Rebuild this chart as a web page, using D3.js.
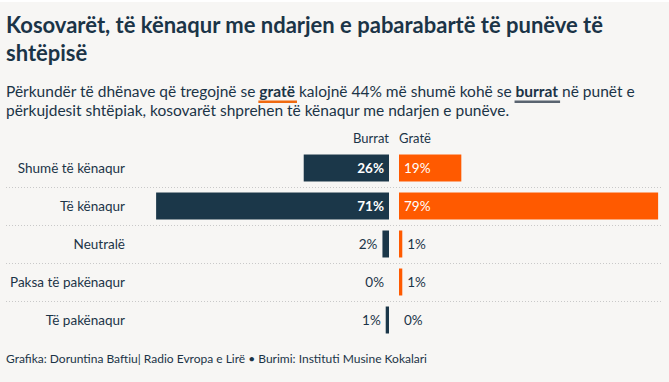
<!DOCTYPE html>
<html>
<head>
<meta charset="utf-8">
<script src="https://cdn.jsdelivr.net/npm/d3@7.9.0/dist/d3.min.js"></script>
<style>
  html, body { margin: 0; padding: 0; background: #fff; }
  svg { display: block; font-family: Lato, sans-serif; }
</style>
</head>
<body>
<svg id="chart" width="669" height="382"></svg>
<script>
const categories = ["Shumë të kënaqur", "Të kënaqur", "Neutralë", "Paksa të pakënaqur", "Të pakënaqur"];
const burrat = [26, 71, 2, 0, 1];
const grate = [19, 79, 1, 1, 0];
const seriesNames = ["Burrat", "Gratë"];

const navy = "#1b3749";
const orange = "#ff5a00";
const ink = "#1b3447";

const svg = d3.select("#chart");

svg.append("rect")
  .attr("x", 0).attr("y", 2)
  .attr("width", 669).attr("height", 380)
  .attr("fill", "#f7f6f4");

// title
const title = svg.append("text")
  .attr("x", 6).attr("y", 33)
  .attr("fill", ink)
  .attr("font-size", 22)
  .attr("font-weight", 700);
title.append("tspan").attr("x", 6).text("Kosovarët, të kënaqur me ndarjen e pabarabartë të punëve të");
title.append("tspan").attr("x", 6).attr("dy", 28).text("shtëpisë");

// subtitle with highlighted words
const sub = svg.append("text")
  .attr("x", 6).attr("y", 97)
  .attr("fill", ink)
  .attr("font-size", 15.5);
const l1 = sub.append("tspan").attr("x", 6);
l1.append("tspan").text("Përkundër të dhënave që tregojnë se ");
l1.append("tspan").attr("class", "hl-g").attr("font-weight", 700).text("gratë");
l1.append("tspan").text(" kalojnë 44% më shumë kohë se ");
l1.append("tspan").attr("class", "hl-b").attr("font-weight", 700).text("burrat");
l1.append("tspan").text(" në punët e");
sub.append("tspan").attr("x", 6).attr("dy", 19)
  .text("përkujdesit shtëpiak, kosovarët shprehen të kënaqur me ndarjen e punëve.");

[["hl-g", "#f06a10"], ["hl-b", "#5a6470"]].forEach(([cls, col]) => {
  const node = sub.select("." + cls).node();
  const n = node.getNumberOfChars();
  const start = node.getStartPositionOfChar(0).x;
  const end = node.getEndPositionOfChar(n - 1).x;
  svg.append("rect")
    .attr("x", start - 1).attr("y", 100.5)
    .attr("width", end - start + 3).attr("height", 2.5)
    .attr("fill", col);
});

// chart geometry
const mid = 394, gap = 5;
const x = d3.scaleLinear().domain([0, 100]).range([0, 328]);
const y = d3.scaleBand().domain(categories).range([149, 339]).paddingInner(0.29).paddingOuter(0.145);

// column headers
svg.append("text").attr("x", mid - gap).attr("y", 143)
  .attr("text-anchor", "end").attr("font-size", 13).attr("fill", ink).text(seriesNames[0]);
svg.append("text").attr("x", mid + gap).attr("y", 143)
  .attr("font-size", 13).attr("fill", ink).text(seriesNames[1]);

// dotted separators
categories.slice(1).forEach(c => {
  const yy = y(c) - (y.step() - y.bandwidth()) / 2;
  svg.append("line")
    .attr("x1", 6).attr("x2", 662)
    .attr("y1", Math.round(yy) + 0.5).attr("y2", Math.round(yy) + 0.5)
    .attr("stroke", "#c9c9c9")
    .attr("stroke-dasharray", "1,2");
});

const rows = svg.selectAll("g.row")
  .data(categories.map((c, i) => ({ c, b: burrat[i], g: grate[i] })))
  .join("g").attr("class", "row");

rows.append("text")
  .attr("x", 125)
  .attr("y", d => y(d.c) + y.bandwidth() / 2)
  .attr("dy", "0.35em")
  .attr("text-anchor", "end")
  .attr("font-size", 13.5)
  .attr("fill", ink)
  .text(d => d.c);

rows.append("rect")
  .attr("x", d => mid - gap - x(d.b))
  .attr("y", d => y(d.c))
  .attr("width", d => x(d.b))
  .attr("height", y.bandwidth())
  .attr("fill", navy);

rows.append("rect")
  .attr("x", mid + gap)
  .attr("y", d => y(d.c))
  .attr("width", d => x(d.g))
  .attr("height", y.bandwidth())
  .attr("fill", orange);

const inside = v => v > 10;

rows.append("text")
  .attr("x", d => inside(d.b) ? mid - gap - 5 : mid - gap - x(d.b) - 5)
  .attr("y", d => y(d.c) + y.bandwidth() / 2)
  .attr("dy", "0.35em")
  .attr("text-anchor", "end")
  .attr("font-size", 13.5)
  .attr("font-weight", d => inside(d.b) ? 700 : 400)
  .attr("fill", d => inside(d.b) ? "#fff" : ink)
  .text(d => d.b + "%");

rows.append("text")
  .attr("x", d => inside(d.g) ? mid + gap + 5 : mid + gap + x(d.g) + 5)
  .attr("y", d => y(d.c) + y.bandwidth() / 2)
  .attr("dy", "0.35em")
  .attr("font-size", 13.5)
  .attr("fill", d => inside(d.g) ? "#fff" : ink)
  .text(d => d.g + "%");

// footer
svg.append("text")
  .attr("x", 6).attr("y", 363)
  .attr("font-size", 12)
  .attr("fill", ink)
  .text("Grafika: Doruntina Baftiu| Radio Evropa e Lirë • Burimi: Instituti Musine Kokalari");
</script>
</body>
</html>
